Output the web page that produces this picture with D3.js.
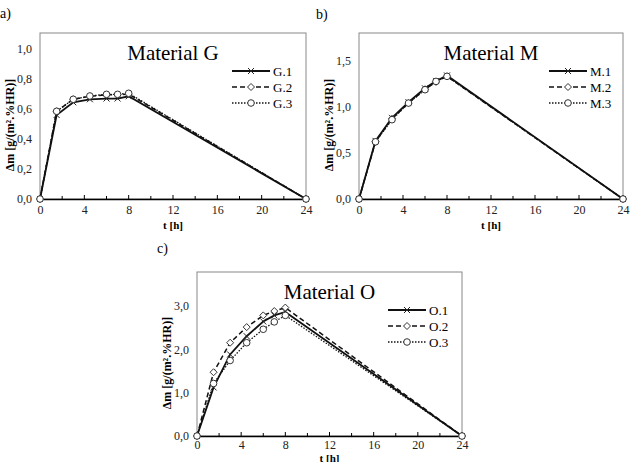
<!DOCTYPE html>
<html><head><meta charset="utf-8">
<script src="https://cdn.jsdelivr.net/npm/d3@7"></script>
<style>body{margin:0;background:#fff}svg{display:block}text{font-family:"Liberation Serif","Times New Roman",serif}</style>
</head><body>
<script>
const times = [0, 1.5, 3, 4.5, 6, 7, 8, 24];
const G1 = [0, 0.56, 0.645, 0.665, 0.67, 0.67, 0.685, 0];
const G2 = [0, 0.585, 0.665, 0.685, 0.695, 0.695, 0.70, 0];
const G3 = [0, 0.585, 0.665, 0.687, 0.698, 0.698, 0.705, 0];
const M1 = [0, 0.63, 0.88, 1.05, 1.20, 1.28, 1.34, 0];
const M2 = [0, 0.62, 0.87, 1.04, 1.19, 1.27, 1.33, 0];
const M3 = [0, 0.62, 0.86, 1.04, 1.185, 1.275, 1.33, 0];
const O1 = [0, 1.12, 1.88, 2.30, 2.64, 2.78, 2.86, 0];
const O2 = [0, 1.47, 2.15, 2.51, 2.78, 2.88, 2.96, 0];
const O3 = [0, 1.21, 1.74, 2.15, 2.46, 2.63, 2.78, 0];
const xTicks = [0, 4, 8, 12, 16, 20, 24];
const xMinor = [2, 6, 10, 14, 18, 22];
const yTicksG = [0, 0.2, 0.4, 0.6, 0.8, 1.0];
const yTicksM = [0, 0.5, 1.0, 1.5];
const yTicksO = [0, 1.0, 2.0, 3.0];
const seriesNames = { G: ["G.1","G.2","G.3"], M: ["M.1","M.2","M.3"], O: ["O.1","O.2","O.3"] };

const W = 630, H = 462;
const svg = d3.select("body").append("svg").attr("width", W).attr("height", H);

const styles = [
  { dash: null, width: 1.8, marker: "cross" },
  { dash: "5,3", width: 1.5, marker: "diamond" },
  { dash: "1.5,1.5", width: 1.3, marker: "circle" }
];

function drawMarker(g, type, x, y) {
  if (type === "cross") {
    g.append("path").attr("d", `M${x-3},${y-3}L${x+3},${y+3}M${x-3},${y+3}L${x+3},${y-3}`)
      .attr("stroke", "#222").attr("stroke-width", 1).attr("fill", "none");
  } else if (type === "diamond") {
    g.append("path").attr("d", `M${x},${y-3.5}L${x+3.5},${y}L${x},${y+3.5}L${x-3.5},${y}Z`)
      .attr("stroke", "#333").attr("stroke-width", 1).attr("fill", "#fff");
  } else {
    g.append("circle").attr("cx", x).attr("cy", y).attr("r", 3.3)
      .attr("stroke", "#333").attr("stroke-width", 1).attr("fill", "#fff");
  }
}

const fmt = v => d3.format(".1f")(v).replace(".", ",");

function panel(opt) {
  const { left, right, top, bottom, ymax, yTicks, data, names, title, letter, lx, ly, ylabX, xlabDy, tickPad } = opt;
  const x = d3.scaleLinear().domain([0, 24]).range([left, right]);
  const y = d3.scaleLinear().domain([0, ymax]).range([bottom, top]);
  const g = svg.append("g");
  g.append("rect").attr("x", left).attr("y", top).attr("width", right - left).attr("height", bottom - top)
    .attr("fill", "none").attr("stroke", "#888").attr("stroke-width", 1);
  const ax = g.append("g").attr("transform", `translate(0,${bottom})`)
    .call(d3.axisBottom(x).tickValues(xTicks).tickSize(0).tickPadding(tickPad).tickFormat(d => d));
  ax.select(".domain").attr("stroke", "#000").attr("stroke-width", 1.5);
  ax.selectAll("text").attr("font-size", 12).attr("fill", "#222");
  g.selectAll(null).data(xTicks).enter().append("line")
    .attr("x1", d => x(d)).attr("x2", d => x(d)).attr("y1", bottom - 4).attr("y2", bottom + 1)
    .attr("stroke", "#000").attr("stroke-width", 1);
  g.selectAll(null).data(xMinor).enter().append("line")
    .attr("x1", d => x(d)).attr("x2", d => x(d)).attr("y1", bottom - 3).attr("y2", bottom)
    .attr("stroke", "#000").attr("stroke-width", 1);
  const ay = g.append("g").attr("transform", `translate(${left},0)`)
    .call(d3.axisLeft(y).tickValues(yTicks).tickSize(0).tickPadding(8).tickFormat(fmt));
  ay.select(".domain").remove();
  ay.selectAll("text").attr("font-size", 12).attr("fill", "#222");
  g.append("text").attr("x", (left + right) / 2).attr("y", bottom + xlabDy).attr("text-anchor", "middle")
    .attr("font-size", 11).attr("font-weight", "bold").text("t [h]");
  g.append("text").attr("transform", `translate(${ylabX},${(top + bottom) / 2 + 9}) rotate(-90)`)
    .attr("text-anchor", "middle").attr("font-size", 12).attr("font-weight", "bold")
    .text("Δm [g/(m².%HR)]");
  g.append("text").attr("x", (left + right) / 2).attr("y", top + 27).attr("text-anchor", "middle")
    .attr("font-size", 21).text(title);
  g.append("text").attr("x", lx).attr("y", ly).attr("font-size", 14).text(letter);
  const line = d3.line().x(d => x(d[0])).y(d => y(d[1]));
  data.forEach((vals, i) => {
    const pts = times.map((t, j) => [t, vals[j]]);
    const s = styles[i];
    g.append("path").datum(pts).attr("d", line).attr("fill", "none").attr("stroke", "#111")
      .attr("stroke-width", s.width).attr("stroke-dasharray", s.dash);
  });
  data.forEach((vals, i) => {
    times.forEach((t, j) => drawMarker(g, styles[i].marker, x(t), y(vals[j])));
  });
  names.forEach((n, i) => {
    const yy = top + 38 + i * 16;
    const x0 = right - 74, x1 = right - 36;
    g.append("line").attr("x1", x0).attr("x2", x1).attr("y1", yy).attr("y2", yy)
      .attr("stroke", "#111").attr("stroke-width", styles[i].width).attr("stroke-dasharray", styles[i].dash);
    drawMarker(g, styles[i].marker, (x0 + x1) / 2, yy);
    g.append("text").attr("x", x1 + 3).attr("y", yy + 4.5).attr("font-size", 13).text(n);
  });
}

panel({ left: 40, right: 306, top: 33, bottom: 199, ymax: 1.107, yTicks: yTicksG,
  data: [G1, G2, G3], names: seriesNames.G, title: "Material G", letter: "a)", lx: 0, ly: 18, ylabX: 14, xlabDy: 30, tickPad: 6 });
panel({ left: 359, right: 623, top: 33, bottom: 199, ymax: 1.8, yTicks: yTicksM,
  data: [M1, M2, M3], names: seriesNames.M, title: "Material M", letter: "b)", lx: 316, ly: 19, ylabX: 333, xlabDy: 30, tickPad: 6 });
panel({ left: 197, right: 462, top: 272, bottom: 436, ymax: 3.78, yTicks: yTicksO,
  data: [O1, O2, O3], names: seriesNames.O, title: "Material O", letter: "c)", lx: 157, ly: 253, ylabX: 171, xlabDy: 26, tickPad: 4 });
</script>
</body></html>
